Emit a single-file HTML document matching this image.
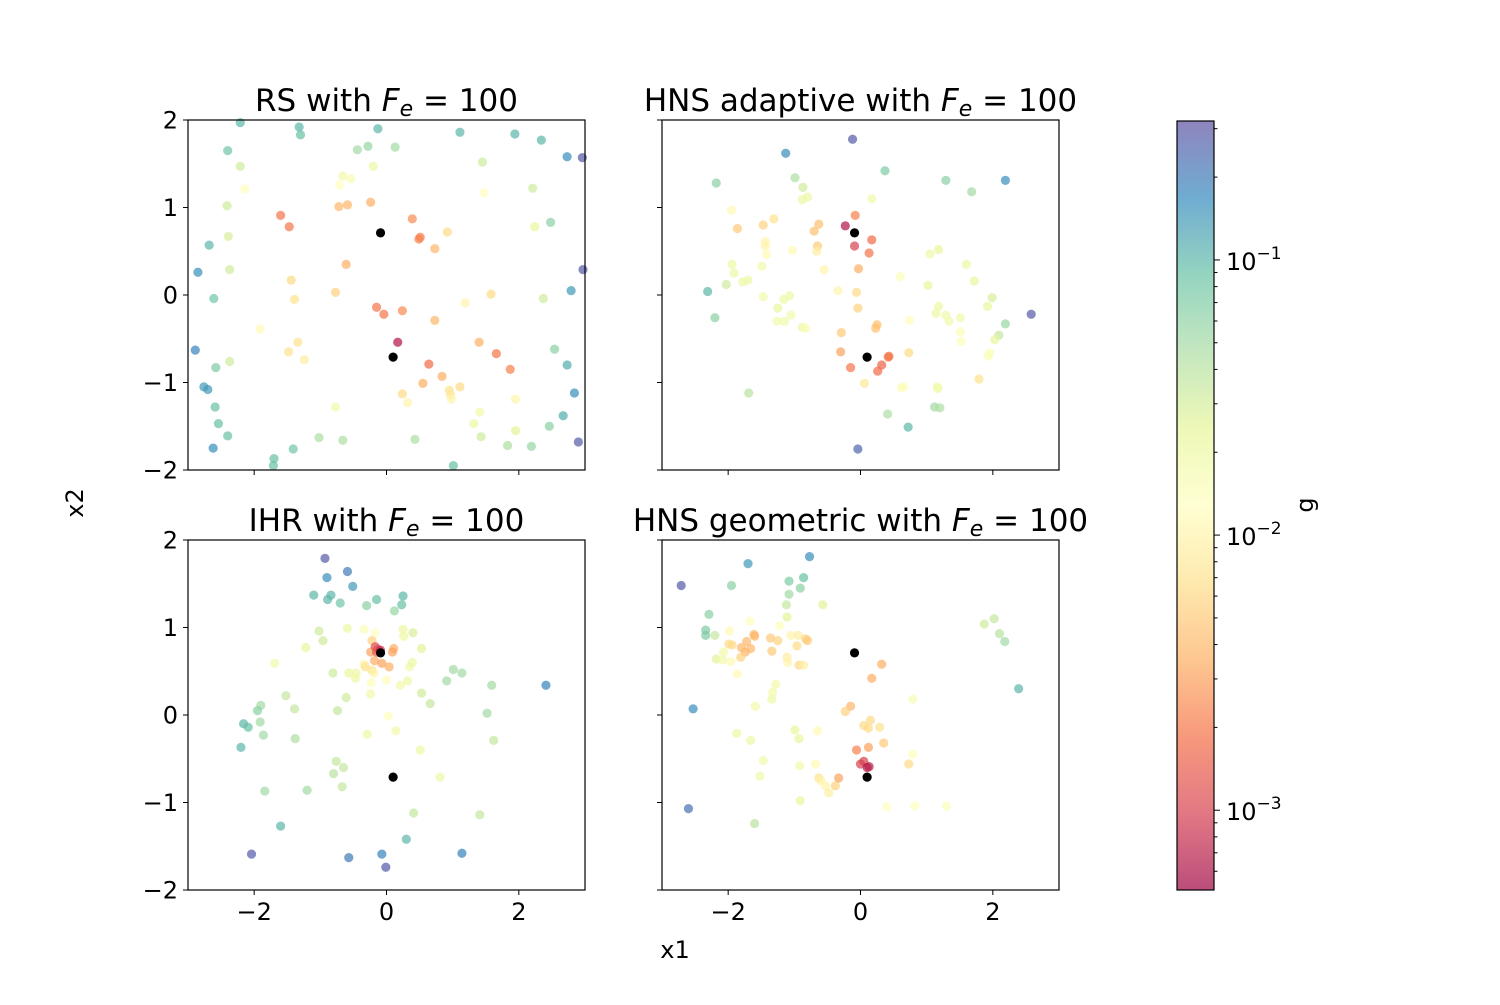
<!DOCTYPE html>
<html><head><meta charset="utf-8"><style>
html,body{margin:0;padding:0;background:#fff;}
svg text{font-family:"DejaVu Sans","Liberation Sans",sans-serif;fill:#000;}
</style></head><body>
<svg id="fig" width="1500" height="1000" xmlns="http://www.w3.org/2000/svg"></svg>
<script>
// ---- data: [x1, x2, log10(g)] per sample ----
const rsPoints = [
[-2.21,1.97,-1.0],[-1.32,1.92,-1.0],[-1.30,1.83,-1.05],[-0.13,1.90,-1.0],[1.11,1.86,-1.0],[1.94,1.84,-1.0],[2.34,1.77,-1.0],[2.73,1.58,-0.8],[2.96,1.57,-0.55],
[-2.40,1.65,-1.1],[-0.44,1.66,-1.3],[-0.28,1.70,-1.25],[0.13,1.69,-1.3],[-2.21,1.47,-1.5],[-0.20,1.47,-1.7],[1.45,1.52,-1.5],[-0.66,1.36,-1.75],[-0.54,1.33,-1.8],
[-0.71,1.26,-1.9],[-2.14,1.21,-1.9],[1.47,1.17,-1.9],[2.21,1.22,-1.5],[-2.41,1.02,-1.5],[-0.72,1.01,-2.4],[-0.59,1.03,-2.4],[-0.24,1.06,-2.45],[-1.60,0.91,-2.7],
[-1.47,0.78,-2.7],[0.39,0.87,-2.6],[0.49,0.64,-2.65],[0.51,0.66,-2.65],[0.92,0.72,-2.2],[0.73,0.53,-2.4],[2.24,0.78,-1.65],[2.48,0.83,-1.2],[-2.39,0.67,-1.55],
[-2.68,0.57,-1.0],[-0.61,0.35,-2.45],[-2.37,0.29,-1.5],[-2.85,0.26,-0.8],[2.97,0.29,-0.55],[-1.44,0.17,-2.2],[-0.77,0.03,-2.25],[-1.39,-0.05,-2.15],[1.58,0.01,-2.2],
[1.19,-0.09,-2.0],[2.37,-0.04,-1.5],[2.79,0.05,-0.85],[-2.61,-0.04,-1.1],[-0.15,-0.14,-2.7],[-0.04,-0.22,-2.7],[0.24,-0.18,-2.6],[0.73,-0.29,-2.4],[-1.91,-0.39,-1.95],
[0.17,-0.54,-3.2],[-1.34,-0.54,-2.15],[-1.48,-0.65,-2.15],[-1.24,-0.74,-2.05],[-2.89,-0.63,-0.75],[1.40,-0.54,-2.45],[1.66,-0.67,-2.7],[2.54,-0.62,-1.2],[-2.37,-0.76,-1.5],
[-2.58,-0.83,-1.15],[0.64,-0.79,-2.75],[1.87,-0.85,-2.65],[2.73,-0.80,-0.95],[-2.76,-1.05,-0.85],[-2.70,-1.08,-0.85],[0.84,-0.93,-2.45],[0.55,-1.01,-2.45],[0.24,-1.13,-2.2],
[0.32,-1.23,-2.0],[0.95,-1.09,-2.15],[0.97,-1.14,-2.1],[0.98,-1.19,-2.0],[1.11,-1.05,-2.2],[1.95,-1.19,-2.0],[2.84,-1.12,-0.8],[-2.59,-1.28,-1.05],[-0.77,-1.28,-1.75],
[1.41,-1.34,-1.75],[-2.54,-1.47,-1.05],[1.32,-1.47,-1.7],[2.67,-1.38,-0.95],[2.46,-1.50,-1.2],[-2.40,-1.61,-1.05],[-1.02,-1.63,-1.35],[-0.66,-1.66,-1.35],[0.43,-1.65,-1.35],
[1.43,-1.62,-1.5],[1.95,-1.55,-1.6],[1.83,-1.72,-1.35],[2.19,-1.73,-1.25],[2.90,-1.68,-0.55],[-2.62,-1.75,-0.8],[-1.41,-1.76,-1.1],[-1.70,-1.87,-1.05],[-1.71,-1.95,-1.05],[1.01,-1.95,-1.05]
];
const hnsAdaptivePoints = [
[-0.12,1.78,-0.55],[-1.13,1.62,-0.8],[0.37,1.42,-1.15],[1.29,1.31,-1.2],[2.19,1.31,-0.8],[-2.18,1.28,-1.2],[1.68,1.18,-1.3],[-0.99,1.34,-1.35],[-0.87,1.23,-1.5],
[-0.80,1.12,-1.7],[-0.88,1.09,-1.7],[0.17,1.10,-1.75],[-1.95,0.97,-1.95],[-0.08,0.91,-2.65],[-1.86,0.76,-2.3],[-1.47,0.80,-2.25],[-1.31,0.87,-2.15],[-0.63,0.81,-2.35],
[-0.70,0.73,-2.35],[-0.23,0.79,-3.2],[-0.09,0.56,-3.0],[0.17,0.63,-2.75],[0.13,0.48,-2.7],[-1.44,0.61,-2.0],[-1.44,0.56,-2.0],[-1.42,0.46,-1.95],[-1.03,0.51,-1.95],
[-0.65,0.56,-2.3],[-0.66,0.50,-2.05],[-0.03,0.30,-2.45],[-0.55,0.29,-2.0],[-1.94,0.35,-1.7],[-1.91,0.25,-1.7],[-2.03,0.12,-1.5],[-1.78,0.15,-1.7],[-1.70,0.17,-1.7],
[-1.49,0.33,-1.75],[0.60,0.21,-1.85],[1.05,0.47,-1.7],[1.18,0.52,-1.65],[1.60,0.35,-1.7],[1.72,0.16,-1.65],[1.02,0.11,-1.65],[-2.31,0.04,-1.0],[-1.47,-0.02,-1.75],
[-1.16,-0.05,-1.7],[-1.07,-0.01,-1.7],[-1.25,-0.15,-1.65],[-1.05,-0.23,-1.75],[-1.15,-0.30,-1.75],[-1.26,-0.30,-1.75],[-0.88,-0.37,-1.7],[-0.83,-0.38,-1.8],[-2.20,-0.26,-1.2],
[-0.34,0.05,-2.0],[-0.06,0.03,-2.2],[-0.04,-0.15,-2.25],[0.25,-0.34,-2.35],[0.23,-0.38,-2.35],[-0.29,-0.43,-2.3],[-0.30,-0.65,-2.5],[-0.15,-0.83,-2.7],[0.32,-0.80,-2.8],
[0.26,-0.87,-2.75],[0.42,-0.71,-2.7],[0.43,-0.70,-2.7],[0.73,-0.66,-2.2],[0.06,-1.01,-2.1],[0.74,-0.29,-1.9],[1.99,-0.03,-1.55],[1.92,-0.13,-1.65],[1.18,-0.13,-1.7],
[1.14,-0.21,-1.7],[1.29,-0.23,-1.75],[1.34,-0.30,-1.75],[1.51,-0.26,-1.75],[1.51,-0.42,-1.85],[1.52,-0.53,-1.85],[2.58,-0.22,-0.55],[2.19,-0.33,-1.25],[2.09,-0.46,-1.45],
[2.03,-0.51,-1.65],[1.95,-0.66,-1.85],[1.93,-0.70,-1.85],[1.79,-0.96,-2.15],[0.65,-1.05,-1.85],[0.62,-1.06,-1.85],[1.16,-1.05,-1.75],[1.17,-1.07,-1.75],[1.12,-1.28,-1.3],
[1.20,-1.29,-1.35],[0.41,-1.36,-1.35],[0.72,-1.51,-1.0],[-0.04,-1.76,-0.6],[-1.69,-1.12,-1.4]
];
const ihrPoints = [
[-0.93,1.79,-0.55],[-0.59,1.64,-0.7],[-0.90,1.57,-0.8],[-0.51,1.47,-0.85],[-1.10,1.37,-1.0],[-0.84,1.37,-1.0],[-0.89,1.32,-1.0],[-0.70,1.28,-1.1],[-0.30,1.25,-1.2],
[-0.15,1.32,-1.05],[0.25,1.36,-1.0],[0.23,1.26,-1.05],[0.12,1.19,-1.25],[-1.02,0.96,-1.5],[-0.59,0.99,-1.7],[-0.34,0.98,-1.85],[-0.17,0.94,-1.9],[0.25,0.98,-1.7],
[0.40,0.94,-1.55],[0.26,0.90,-1.7],[-0.96,0.85,-1.5],[-1.22,0.77,-1.65],[0.53,0.76,-1.6],[-1.69,0.59,-1.75],
[-0.22,0.85,-2.25],[-0.24,0.72,-2.5],[0.11,0.76,-2.45],[0.09,0.72,-2.5],[-0.18,0.62,-2.45],[-0.07,0.59,-2.5],[0.04,0.55,-2.45],
[-0.17,0.78,-2.95],[-0.13,0.75,-2.95],[-0.15,0.72,-2.85],[-0.09,0.74,-3.1],
[-0.34,0.58,-2.0],[-0.32,0.55,-2.15],[-0.22,0.51,-2.15],[-0.19,0.48,-2.0],
[-0.81,0.48,-1.5],[-0.57,0.48,-1.65],[-0.46,0.48,-1.7],[-0.47,0.42,-1.7],[-0.23,0.37,-1.85],[0.00,0.40,-1.9],[0.21,0.34,-1.75],[0.32,0.39,-1.7],[0.35,0.55,-1.75],
[0.39,0.60,-1.7],[-0.24,0.24,-1.75],[-0.61,0.20,-1.5],[0.53,0.25,-1.5],[0.66,0.13,-1.45],[0.91,0.39,-1.3],[1.01,0.52,-1.3],[1.14,0.48,-1.3],[1.59,0.34,-1.3],
[2.41,0.34,-0.75],[-1.52,0.22,-1.45],[-1.39,0.07,-1.45],[-0.74,0.05,-1.45],[-1.90,0.11,-1.3],[-1.95,0.05,-1.2],[-1.91,-0.08,-1.3],[-2.16,-0.10,-1.0],[-2.09,-0.14,-1.05],
[-1.86,-0.23,-1.3],[-2.20,-0.37,-1.0],[-1.38,-0.27,-1.35],[0.03,-0.01,-1.9],[0.14,-0.18,-1.75],[-0.29,-0.22,-1.7],[0.51,-0.40,-1.7],[1.52,0.02,-1.3],[1.62,-0.29,-1.45],
[-0.76,-0.53,-1.45],[-0.65,-0.60,-1.45],[-0.80,-0.67,-1.4],[-0.67,-0.82,-1.45],[0.81,-0.71,-1.7],[-1.84,-0.87,-1.3],[-1.20,-0.86,-1.3],[0.41,-1.12,-1.45],[1.41,-1.14,-1.45],
[-1.60,-1.27,-1.0],[0.30,-1.42,-1.0],[-2.04,-1.59,-0.55],[-0.57,-1.63,-0.7],[-0.07,-1.59,-0.75],[-0.01,-1.74,-0.55],[1.14,-1.58,-0.75]
];
const hnsGeometricPoints = [
[-2.71,1.48,-0.55],[-1.70,1.73,-0.85],[-0.77,1.81,-0.8],[-1.95,1.48,-1.2],[-1.08,1.53,-1.15],[-0.86,1.57,-1.05],[-0.91,1.45,-1.2],[-1.08,1.38,-1.3],[-1.12,1.26,-1.45],
[-0.57,1.26,-1.6],[-2.29,1.15,-1.2],[-1.11,1.12,-1.6],[-1.67,1.07,-1.9],[-1.22,1.02,-1.9],[-2.34,0.97,-1.15],[-2.34,0.91,-1.15],[-2.20,0.91,-1.45],[-1.98,0.96,-1.95],
[-1.61,0.92,-2.4],[-1.60,0.90,-2.4],[-1.99,0.81,-2.2],[-1.94,0.80,-2.2],[-1.72,0.84,-2.4],[-1.80,0.77,-2.4],[-1.66,0.76,-2.4],[-1.74,0.72,-2.4],[-1.81,0.66,-2.25],
[-2.07,0.72,-1.75],[-2.18,0.64,-1.6],[-2.08,0.63,-1.75],[-1.96,0.61,-1.95],[-1.86,0.47,-1.95],[-1.36,0.88,-2.3],[-1.25,0.85,-2.25],[-1.34,0.73,-2.3],[-1.05,0.91,-2.0],
[-0.94,0.91,-2.05],[-0.96,0.79,-2.2],[-0.83,0.87,-2.25],[-0.80,0.85,-2.3],[-1.11,0.66,-2.05],[-1.10,0.60,-2.0],[-0.93,0.57,-2.2],[-0.86,0.57,-2.05],[-1.28,0.35,-1.75],
[-1.33,0.26,-1.75],[-1.34,0.18,-1.7],[-1.59,0.10,-1.75],[-1.87,-0.21,-1.7],[-1.66,-0.29,-1.7],[-1.47,-0.52,-1.75],[-1.52,-0.70,-1.75],[-0.91,-0.98,-1.65],[-1.60,-1.24,-1.4],
[-2.53,0.07,-0.8],[-2.60,-1.07,-0.65],[-0.99,-0.17,-1.65],[-0.93,-0.27,-1.65],[-0.65,-0.18,-1.95],[-0.92,-0.58,-1.75],[-0.68,-0.56,-1.95],[-0.63,-0.72,-2.15],[-0.60,-0.75,-2.0],
[-0.53,-0.81,-2.0],[-0.48,-0.89,-2.05],[-0.38,-0.81,-2.25],[-0.33,-0.72,-2.5],[0.32,0.58,-2.45],[0.17,0.42,-2.45],[0.79,0.18,-1.8],[-0.15,0.10,-2.4],[-0.23,0.04,-2.25],
[0.15,-0.06,-2.2],[0.05,-0.12,-2.2],[0.12,-0.15,-2.2],[0.29,-0.14,-2.15],[0.35,-0.32,-2.3],[0.12,-0.37,-2.5],[-0.06,-0.40,-2.65],[0.00,-0.56,-3.0],[0.05,-0.53,-3.0],
[0.10,-0.60,-3.2],[0.13,-0.59,-3.15],[0.79,-0.45,-1.9],[0.73,-0.56,-2.2],[0.40,-1.05,-1.9],[0.82,-1.04,-1.9],[1.30,-1.04,-1.85],[1.87,1.04,-1.5],[2.02,1.10,-1.45],
[2.10,0.93,-1.4],[2.18,0.84,-1.3],[2.39,0.30,-1.0]
];
const optimaX = [-0.09, 0.10];
const optimaY = [0.71, -0.71];
const xTicks = [-2, 0, 2];
const yTicks = [2, 1, 0, -1, -2];
const cbarTicks = [-1, -2, -3];
const titles = ["RS with ", "HNS adaptive with ", "IHR with ", "HNS geometric with "];
const feValue = "100";

// ---- layout ----
const NS = "http://www.w3.org/2000/svg";
const svg = document.getElementById("fig");
const XMIN = -3, XMAX = 3, YMIN = -2, YMAX = 2;
const LGMIN = -3.29, LGMAX = -0.495;
const panels = [
  {x0:188, y0:120, w:397, h:350, data:rsPoints, ylab:true, xlab:false, name:"rs"},
  {x0:662, y0:120, w:397, h:350, data:hnsAdaptivePoints, ylab:false, xlab:false, name:"hns-adaptive"},
  {x0:188, y0:540, w:397, h:350, data:ihrPoints, ylab:true, xlab:true, name:"ihr"},
  {x0:662, y0:540, w:397, h:350, data:hnsGeometricPoints, ylab:false, xlab:true, name:"hns-geometric"}
];
const spectral = [[158,1,66],[213,62,79],[244,109,67],[253,174,97],[254,224,139],[255,255,191],[230,245,152],[171,221,164],[102,194,165],[50,136,189],[94,79,162]];
function cmap(t){
  t = Math.max(0, Math.min(1, t));
  const f = t*10, i = Math.min(9, Math.floor(f)), r = f - i;
  const a = spectral[i], b = spectral[i+1];
  return "rgb(" + a.map((v,k)=>Math.round(v + (b[k]-v)*r)).join(",") + ")";
}
function el(tag, attrs, parent){
  const e = document.createElementNS(NS, tag);
  for (const k in attrs) e.setAttribute(k, attrs[k]);
  (parent || svg).appendChild(e);
  return e;
}
function sx(p, v){ return p.x0 + (v - XMIN)/(XMAX - XMIN)*p.w; }
function sy(p, v){ return p.y0 + (YMAX - v)/(YMAX - YMIN)*p.h; }
function tnorm(lg){ return (lg - LGMIN)/(LGMAX - LGMIN); }

panels.forEach((p, pi) => {
  const g = el("g", {});
  
  
  p.data.forEach(d => {
    const c = el("circle", {cx: sx(p, d[0]), cy: sy(p, d[1]), r: 4.6, fill: cmap(tnorm(d[2])), "fill-opacity": 0.7}, g);
    
    
  });
  optimaX.forEach((ox, k) => {
    const c = el("circle", {cx: sx(p, ox), cy: sy(p, optimaY[k]), r: 4.6, fill: "#000"}, g);
    
    
  });
  const fr = el("rect", {x: p.x0, y: p.y0, width: p.w, height: p.h, fill: "none", stroke: "#000", "stroke-width": 1.2}, g);
  
  
  xTicks.forEach(v => {
    const x = sx(p, v);
    el("line", {x1: x, x2: x, y1: p.y0 + p.h, y2: p.y0 + p.h + 5, stroke: "#000", "stroke-width": 1}, g);
    if (p.xlab) {
      const t = el("text", {x: x, y: p.y0 + p.h + 30, "text-anchor": "middle", "font-size": 24}, g);
      t.textContent = (v < 0 ? "\u2212" + Math.abs(v) : String(v));
      
      
    }
  });
  yTicks.forEach(v => {
    const y = sy(p, v);
    el("line", {x1: p.x0 - 5, x2: p.x0, y1: y, y2: y, stroke: "#000", "stroke-width": 1}, g);
    if (p.ylab) {
      const t = el("text", {x: p.x0 - 10, y: y + 8.5, "text-anchor": "end", "font-size": 24}, g);
      t.textContent = (v < 0 ? "\u2212" + Math.abs(v) : String(v));
      
      
    }
  });
  const tt = el("text", {x: p.x0 + p.w/2, y: p.y0 - 9, "text-anchor": "middle", "font-size": 31}, g);
  
  
  const s1 = el("tspan", {}, tt); s1.textContent = titles[pi];
  const s2 = el("tspan", {"font-style": "italic"}, tt); s2.textContent = "F";
  const s3 = el("tspan", {"font-style": "italic", "font-size": 22, dy: 5}, tt); s3.textContent = "e";
  const s4 = el("tspan", {dy: -5}, tt); s4.textContent = " = " + feValue;
});

// axis labels
const xl = el("text", {x: 675, y: 958, "text-anchor": "middle", "font-size": 24});
xl.textContent = "x1";


const yl = el("text", {x: 83, y: 503, "text-anchor": "middle", "font-size": 24, transform: "rotate(-90 83 503)"});
yl.textContent = "x2";



// colorbar
const CB = {x: 1177, w: 37, y0: 121, y1: 890};
const defs = el("defs", {});
const grad = el("linearGradient", {id: "cbg", x1: 0, y1: 1, x2: 0, y2: 0}, defs);
for (let i = 0; i <= 20; i++) {
  el("stop", {offset: i/20, "stop-color": cmap(i/20), "stop-opacity": 0.7}, grad);
}
const cbg = el("g", {});


el("rect", {x: CB.x, y: CB.y0, width: CB.w, height: CB.y1 - CB.y0, fill: "url(#cbg)", stroke: "#000", "stroke-width": 1.2}, cbg);
function cby(lg){ return CB.y1 - (lg - LGMIN)/(LGMAX - LGMIN)*(CB.y1 - CB.y0); }
for (let dec = -4; dec <= -1; dec++) {
  for (let m = 1; m <= 9; m++) {
    const lg = dec + Math.log10(m);
    if (lg < LGMIN || lg > LGMAX) continue;
    const y = cby(lg);
    el("line", {x1: CB.x + CB.w, x2: CB.x + CB.w + (m === 1 ? 6 : 3.5), y1: y, y2: y, stroke: "#000", "stroke-width": 1}, cbg);
  }
}
cbarTicks.forEach(lg => {
  const y = cby(lg);
  const t = el("text", {x: 1226, y: y + 10, "font-size": 24}, cbg);
  
  
  const a = el("tspan", {}, t); a.textContent = "10";
  const b = el("tspan", {dy: -11, "font-size": 17}, t); b.textContent = "\u2212" + Math.abs(lg);
});
const gl = el("text", {x: 1313, y: 505, "text-anchor": "middle", "font-size": 24, transform: "rotate(-90 1313 505)"});
gl.textContent = "g";


</script>
</body></html>
